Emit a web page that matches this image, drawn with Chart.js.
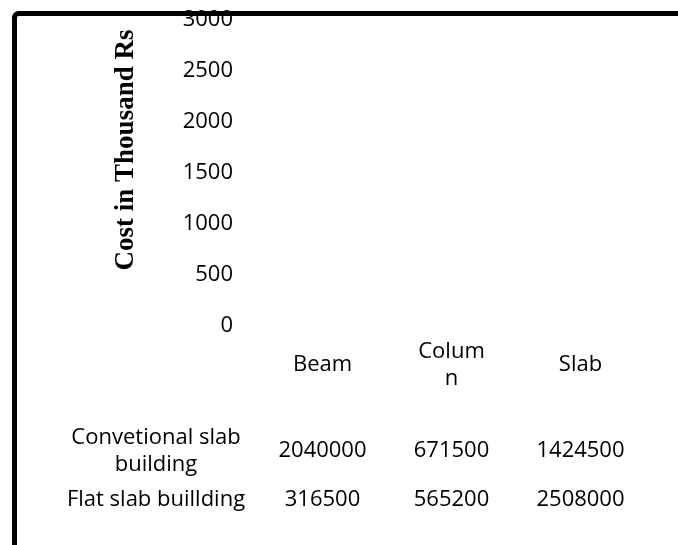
<!DOCTYPE html>
<html>
<head>
<meta charset="utf-8">
<script src="https://cdn.jsdelivr.net/npm/chart.js@4/dist/chart.umd.min.js"></script>
<style>
  html, body { margin: 0; padding: 0; background: #fff; }
  #wrap { width: 678px; height: 545px; }
</style>
</head>
<body>
<div id="wrap"><canvas id="costChart" width="678" height="545"></canvas></div>
<script>
const categories = ["Beam", ["Colum", "n"], "Slab"];
const seriesNames = [["Convetional slab", "building"], ["Flat slab buillding"]];
const conventional = [2040000, 671500, 1424500];
const flatSlab = [316500, 565200, 2508000];
const yTicks = [0, 500, 1000, 1500, 2000, 2500, 3000];
const yTitle = "Cost in Thousand Rs";

const ctx = document.getElementById("costChart").getContext("2d");
const bodyFont = "22px 'Open Sans'";

// border, axis title and data table under the plot
const tablePlugin = {
  id: "tablePlugin",
  afterDraw(chart) {
    const c = chart.ctx;
    const x = chart.scales.x;
    c.save();
    c.fillStyle = "#000";
    c.textAlign = "center";
    c.textBaseline = "middle";

    // y axis title
    c.save();
    c.translate(126, 150);
    c.rotate(-Math.PI / 2);
    c.font = "bold 27px 'Liberation Serif'";
    c.fillText(yTitle, 0, 0);
    c.restore();

    c.font = bodyFont;
    // category header row
    categories.forEach((cat, i) => {
      const px = x.getPixelForValue(i);
      const lines = Array.isArray(cat) ? cat : [cat];
      const lh = 27;
      const y0 = 365 - (lines.length - 1) * lh / 2;
      lines.forEach((ln, k) => c.fillText(ln, px, y0 + k * lh));
    });

    // data rows
    const rows = [conventional, flatSlab];
    const rowY = [451, 500];
    rows.forEach((vals, r) => {
      const names = seriesNames[r];
      const lh = 27;
      const y0 = rowY[r] - (names.length - 1) * lh / 2;
      names.forEach((ln, k) => c.fillText(ln, 156, y0 + k * lh));
      vals.forEach((v, i) => c.fillText(String(v), x.getPixelForValue(i), rowY[r]));
    });

    // outer frame (cropped at right and bottom)
    c.strokeStyle = "#000";
    c.lineWidth = 5;
    c.lineJoin = "round";
    c.beginPath();
    c.moveTo(14.5, 560);
    c.lineTo(14.5, 17);
    c.arcTo(14.5, 13.5, 18, 13.5, 4);
    c.lineTo(690, 13.5);
    c.stroke();
    c.restore();
  }
};

new Chart(ctx, {
  type: "bar",
  data: {
    labels: categories,
    datasets: [
      {
        label: "Convetional slab building",
        data: conventional,
        backgroundColor: "rgba(0,0,0,0)",
        borderWidth: 0,
      },
      {
        label: "Flat slab buillding",
        data: flatSlab,
        backgroundColor: "rgba(0,0,0,0)",
        borderWidth: 0,
      },
    ],
  },
  options: {
    responsive: false,
    animation: false,
    layout: { padding: { top: 20, right: 33, bottom: 211, left: 0 } },
    plugins: { legend: { display: false }, tooltip: { enabled: false } },
    scales: {
      x: {
        ticks: { display: false },
        grid: { display: false },
        border: { display: false },
      },
      y: {
        min: 0,
        max: 3000,
        afterFit: (axis) => {
          axis.width = 258;
          axis.paddingTop = 0;
          axis.paddingBottom = 0;
        },
        afterBuildTicks: (axis) => { axis.ticks = yTicks.map((v) => ({ value: v })); },
        ticks: {
          padding: 25,
          color: "#000",
          font: { family: "'Open Sans'", size: 22 },
          callback: (v) => String(v),
        },
        grid: { display: false, drawTicks: false },
        border: { display: false },
      },
    },
  },
  plugins: [tablePlugin],
});
</script>
</body>
</html>
